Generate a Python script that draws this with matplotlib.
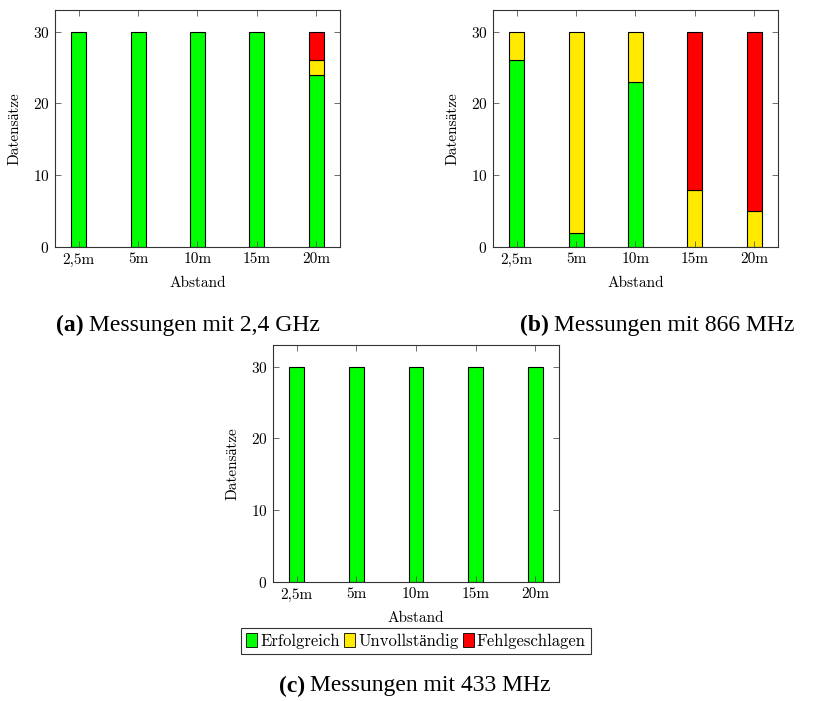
import numpy as np
import matplotlib.pyplot as plt
from matplotlib.patches import Patch

#   the data
abstand = ['2,5m', '5m', '10m', '15m', '20m']
labels = ['Erfolgreich', 'Unvollständig', 'Fehlgeschlagen']
colors = ['#00ff00', '#ffea00', '#ff0000']

ghz24 = {'ok': [30, 30, 30, 30, 24], 'part': [0, 0, 0, 0, 2], 'fail': [0, 0, 0, 0, 4]}
mhz866 = {'ok': [26, 2, 23, 0, 0], 'part': [4, 28, 7, 8, 5], 'fail': [0, 0, 0, 22, 25]}
mhz433 = {'ok': [30, 30, 30, 30, 30], 'part': [0, 0, 0, 0, 0], 'fail': [0, 0, 0, 0, 0]}

captions = [('(a)', 'Messungen mit 2,4 GHz'),
            ('(b)', 'Messungen mit 866 MHz'),
            ('(c)', 'Messungen mit 433 MHz')]

plt.rcParams['font.family'] = ['cmr10', 'Liberation Serif', 'DejaVu Serif']
plt.rcParams['axes.formatter.use_mathtext'] = True

W, H = 829, 701
fig = plt.figure(figsize=(W / 100, H / 100), dpi=100)


def px_axes(left, right, top, bottom):
    return fig.add_axes([left / W, 1 - bottom / H, (right - left) / W, (bottom - top) / H])


def draw(ax, data):
    x = np.arange(len(abstand))
    bottom = np.zeros(len(abstand))
    for key, c in zip(['ok', 'part', 'fail'], colors):
        vals = np.array(data[key], dtype=float)
        mask = vals > 0
        ax.bar(x[mask], vals[mask], width=0.25, bottom=bottom[mask], color=c,
               edgecolor='black', linewidth=0.8)
        bottom += vals
    ax.set_xlim(-0.4, 4.4)
    ax.set_ylim(0, 33)
    ax.set_xticks(x)
    ax.set_xticklabels(abstand)
    ax.set_yticks([0, 10, 20, 30])
    ax.tick_params(direction='in', top=True, right=True, length=4, width=0.6,
                   color='#555555', labelsize=11, pad=4)
    for s in ax.spines.values():
        s.set_linewidth(0.8)
        s.set_color('#333333')
    ax.set_xlabel('Abstand', fontsize=11, labelpad=7)
    ax.set_ylabel('Datensätze', fontsize=11, labelpad=8)


ax_a = px_axes(55, 340, 10, 247)
ax_b = px_axes(493, 778, 10, 247)
ax_c = px_axes(273, 559, 345, 582)
draw(ax_a, ghz24)
draw(ax_b, mhz866)
draw(ax_c, mhz433)

#   the captions: bold tag followed by regular text
cap_font = ['Liberation Serif', 'DejaVu Serif']
cap_pos = [(188, 325), (657, 325), (415, 686)]
fig.canvas.draw()
r = fig.canvas.get_renderer()
for (tag, txt), (cx, cy) in zip(captions, cap_pos):
    t1 = fig.text(cx / W, 1 - cy / H, tag + ' ' + txt, ha='center', va='center',
                  fontsize=17, family=cap_font, alpha=0)
    full = t1.get_window_extent(r)
    tb = fig.text(full.x0 / W, 1 - cy / H, tag, ha='left', va='center', fontsize=17,
                  fontweight='bold', family=cap_font)
    bx = tb.get_window_extent(r)
    fig.text((bx.x1 + 5) / W, 1 - cy / H, txt, ha='left', va='center', fontsize=17,
             family=cap_font)

#   the legend
handles = [Patch(facecolor=c, edgecolor='black', linewidth=0.6) for c in colors]
leg = fig.legend(handles, labels, loc='center', bbox_to_anchor=(416 / W, 1 - 641 / H),
                 ncol=3, fontsize=12, frameon=True, fancybox=False, edgecolor='black',
                 handlelength=0.65, handleheight=0.9, handletextpad=0.2, columnspacing=0.25,
                 borderpad=0.3, borderaxespad=0)
leg.get_frame().set_linewidth(0.8)

fig.savefig('out.png', dpi=100)
